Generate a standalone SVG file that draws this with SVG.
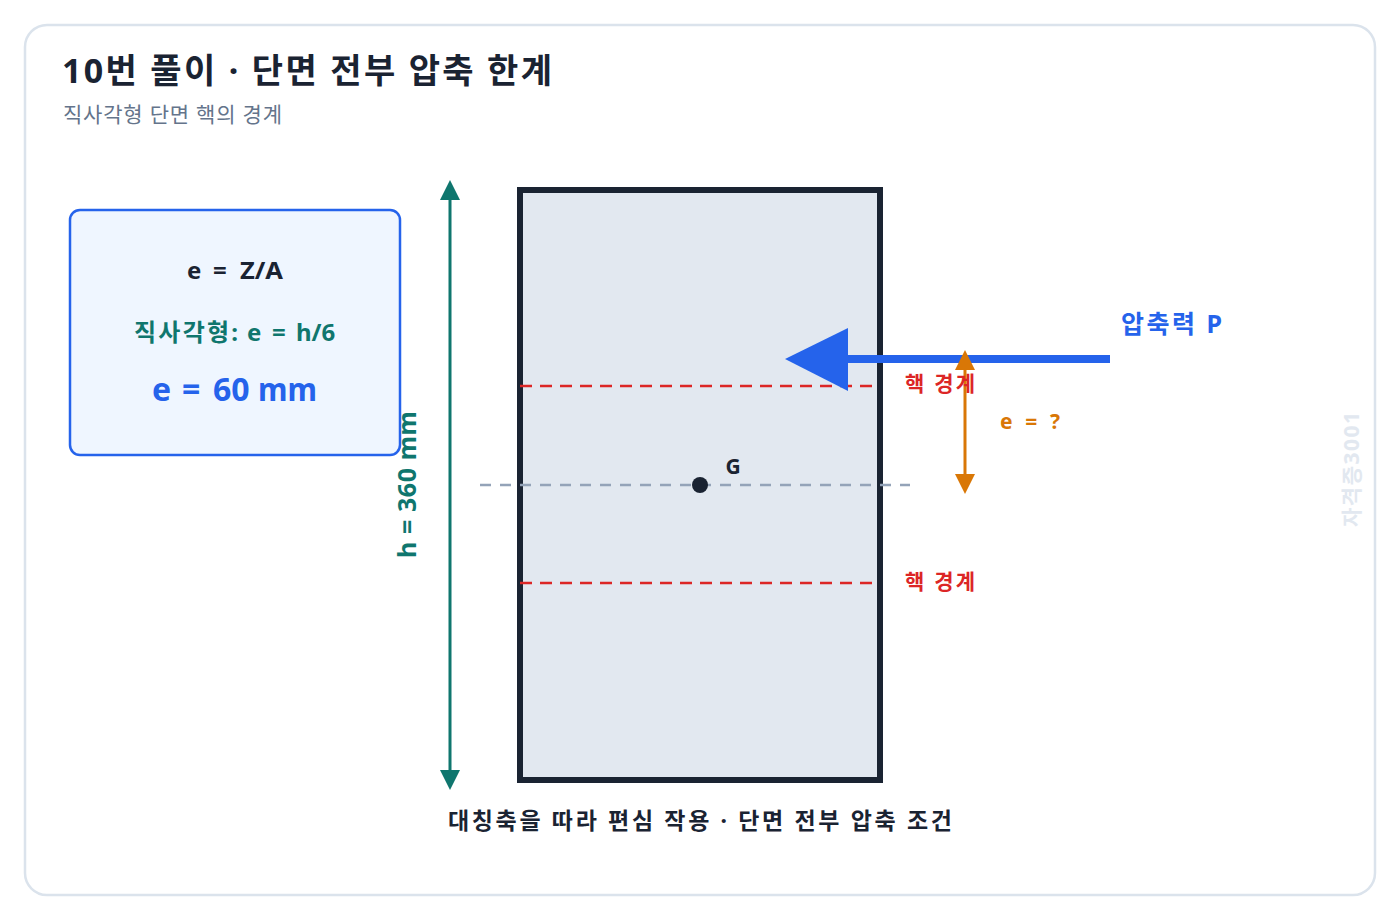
<svg xmlns="http://www.w3.org/2000/svg" width="1400" height="920" viewBox="0 0 1400 920">
<defs>
<style>
text{font-family:"Noto Sans","Noto Sans CJK KR",sans-serif;}
.b{font-weight:700;}
.red{fill:#dc2626;font-size:21px;font-weight:700;}
.core{stroke:#dc2626;stroke-width:2.5;stroke-dasharray:12 8;fill:none;}
</style>
</defs>
<rect x="25" y="25" width="1350" height="870" rx="22" fill="#ffffff" stroke="#dbe3ec" stroke-width="2.5"/>
<g id="title">
<text x="62" y="83" class="b" font-size="34" fill="#1a2332" textLength="490" lengthAdjust="spacing">10번 풀이 · 단면 전부 압축 한계</text>
<text x="63" y="122" font-size="21" fill="#64748b" textLength="219" lengthAdjust="spacing">직사각형 단면 핵의 경계</text>
</g>
<g id="formula-box">
<rect x="70" y="210" width="330" height="245" rx="10" fill="#eff6ff" stroke="#2563eb" stroke-width="2.5"/>
<text y="279" class="b" font-size="24" fill="#1a2332"><tspan x="187">e</tspan> <tspan x="213">=</tspan> <tspan x="240" textLength="43" lengthAdjust="spacingAndGlyphs">Z/A</tspan></text>
<text y="341" class="b" font-size="24" fill="#0f766e"><tspan x="134" textLength="104" lengthAdjust="spacing">직사각형:</tspan> <tspan x="247">e</tspan> <tspan x="272">=</tspan> <tspan x="296">h/6</tspan></text>
<text y="401" class="b" font-size="32" fill="#2563eb"><tspan x="152">e</tspan> <tspan x="182">=</tspan> <tspan x="213">60</tspan> <tspan x="258" textLength="59" lengthAdjust="spacingAndGlyphs">mm</tspan></text>
</g>
<g id="section">
<rect x="520" y="190" width="360" height="590" fill="#e2e8f0" stroke="#1a2332" stroke-width="6"/>
</g>
<g id="connectors">
<line x1="450" y1="200" x2="450" y2="770" stroke="#0f766e" stroke-width="3"/>
<path d="M450,180 L460,200 L440,200 Z" fill="#0f766e"/>
<path d="M450,790 L460,770 L440,770 Z" fill="#0f766e"/>
<line x1="520" y1="386" x2="875" y2="386" class="core"/>
<line x1="520" y1="583" x2="875" y2="583" class="core"/>
<line x1="480" y1="485" x2="910" y2="485" stroke="#94a3b8" stroke-width="2.5" stroke-dasharray="11 9"/>
<line x1="845" y1="359" x2="1110" y2="359" stroke="#2563eb" stroke-width="8"/>
<path d="M785,359 L848,328 L848,391 Z" fill="#2563eb"/>
<line x1="965" y1="368" x2="965" y2="476" stroke="#d97706" stroke-width="3"/>
<path d="M965,350 L975,370 L955,370 Z" fill="#d97706"/>
<path d="M965,494 L975,474 L955,474 Z" fill="#d97706"/>
</g>
<g id="centroid">
<circle cx="700" cy="485" r="8" fill="#1a2332"/>
<text x="733" y="474" text-anchor="middle" class="b" font-size="21" fill="#1a2332">G</text>
</g>
<g id="labels">
<text x="0" y="0" text-anchor="middle" class="b" font-size="25" fill="#0f766e" transform="translate(416 484.5) rotate(-90)" textLength="147" lengthAdjust="spacing">h = 360 mm</text>
<text x="905" y="391" class="red" textLength="70" lengthAdjust="spacing">핵 경계</text>
<text x="905" y="589" class="red" textLength="70" lengthAdjust="spacing">핵 경계</text>
<text x="1121" y="333" class="b" font-size="25" fill="#2563eb" textLength="101" lengthAdjust="spacing">압축력 P</text>
<text x="1000" y="429" class="b" font-size="21" fill="#d97706" textLength="60" lengthAdjust="spacing">e = ?</text>
<text x="448" y="829" class="b" font-size="23" fill="#1a2332" textLength="504" lengthAdjust="spacing">대칭축을 따라 편심 작용 · 단면 전부 압축 조건</text>
<text x="0" y="0" text-anchor="middle" class="b" font-size="21" fill="#e2e8f0" transform="translate(1359 469.5) rotate(-90)" textLength="115" lengthAdjust="spacing">자격증3001</text>
</g>
</svg>
